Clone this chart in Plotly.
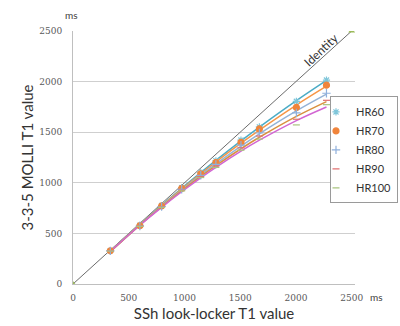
import numpy as np
import plotly.graph_objects as go

# ---- data ----
ssh_t1 = [335, 600, 795, 975, 1146, 1282, 1507, 1672, 2004, 2274]
hr60 = [330, 580, 775, 952, 1102, 1218, 1422, 1552, 1805, 2015]
hr70 = [328, 576, 771, 945, 1088, 1200, 1400, 1532, 1745, 1965]
hr80 = [327, 573, 766, 936, 1074, 1182, 1372, 1492, 1690, 1885]
hr90 = [326, 571, 761, 927, 1062, 1166, 1346, 1462, 1628, 1815]
hr100 = [325, 569, 757, 920, 1052, 1152, 1322, 1432, 1572, 1772]

identity_x = [0, 2500]
identity_y = [0, 2500]

series_names = ["HR60", "HR70", "HR80", "HR90", "HR100"]
series_vals = [hr60, hr70, hr80, hr90, hr100]
line_colors = ["#4BACC6", "#F79646", "#95B3D7", "#D9903F", "#D266D2"]
marker_colors = ["#7FC6DA", "#F0843A", "#8FB0DC", "#E07070", "#A9C47F"]
marker_symbols = ["asterisk-open", "circle", "cross-thin-open", "line-ew-open", "line-ew-open"]
marker_sizes = [6, 6, 6, 5, 5]

y_ticks = [0, 500, 1000, 1500, 2000, 2500]
x_ticks = [0, 500, 1000, 1500, 2000, 2500]

fig = go.Figure()

# identity line
fig.add_trace(go.Scatter(
    x=identity_x, y=identity_y, mode="lines+markers",
    line=dict(color="#6b6b6b", width=1),
    marker=dict(symbol="triangle-up", size=6, color="#9BBB59"),
    showlegend=False, hoverinfo="skip"))

# polynomial trend lines (as in the original spreadsheet chart), no legend
xs = np.array(ssh_t1, dtype=float)
for name, vals, lc in zip(series_names, series_vals, line_colors):
    coef = np.polyfit(xs, np.array(vals, dtype=float), 2)
    fig.add_trace(go.Scatter(
        x=ssh_t1, y=np.polyval(coef, xs), mode="lines",
        line=dict(color=lc, width=1.5, shape="spline"),
        showlegend=False, hoverinfo="skip"))

# markers (legend)
for name, vals, mc, ms, sz in zip(series_names, series_vals, marker_colors, marker_symbols, marker_sizes):
    fig.add_trace(go.Scatter(
        x=ssh_t1, y=vals, mode="markers", name=name,
        marker=dict(symbol=ms, size=sz, color=mc, line=dict(color=mc, width=1.2))))

fig.update_layout(
    width=400, height=326,
    margin=dict(l=73, r=45, t=31, b=42, autoexpand=False),
    paper_bgcolor="white", plot_bgcolor="white",
    font=dict(family="Lato, Open Sans, sans-serif", color="#404040"),
    showlegend=True,
    legend=dict(x=(398 - 73) / 282, xanchor="right", y=0.53, yanchor="middle",
                bgcolor="white", bordercolor="#9a9a9a", borderwidth=1,
                font=dict(size=11, color="#333333"), itemsizing="trace",
                indentation=-15, itemwidth=30, tracegroupgap=0),
)

fig.update_xaxes(
    range=[0, 2530], tickvals=x_ticks, ticktext=[str(v) for v in x_ticks],
    showgrid=False, zeroline=False, showline=True, linecolor="#bfbfbf", linewidth=1,
    tickfont=dict(family="DejaVu Serif, Liberation Serif, serif", size=9, color="#595959"),
    ticks="", ticklabelstandoff=5,
    title=dict(text="SSh look-locker T1 value", font=dict(size=15, color="#333333"), standoff=6))

fig.update_yaxes(
    range=[0, 2500], tickvals=y_ticks, ticktext=[str(v) for v in y_ticks],
    showgrid=True, gridcolor="#cfcfcf", gridwidth=1,
    zeroline=False, showline=True, linecolor="#bfbfbf", linewidth=1,
    tickfont=dict(family="DejaVu Serif, Liberation Serif, serif", size=9, color="#595959"),
    ticks="", ticklabelstandoff=8,
    title=dict(text="3-3-5 MOLLI T1 value", font=dict(size=15, color="#333333"), standoff=2))

fig.add_annotation(text="ms", xref="paper", yref="paper", x=-0.004, y=1.063,
                   xanchor="center", yanchor="middle",
                   showarrow=False, font=dict(size=10, color="#404040"))
fig.add_annotation(text="ms", xref="paper", yref="paper", x=1.078, y=-0.051,
                   xanchor="center", yanchor="middle",
                   showarrow=False, font=dict(size=10, color="#404040"))
fig.add_annotation(text="Identity", xref="x", yref="y", x=2227, y=2322,
                   showarrow=False, textangle=-43, font=dict(size=12, color="#333333"))

fig.write_html("out.html", config={"displayModeBar": False},
               post_script="document.body.style.margin='0';")
